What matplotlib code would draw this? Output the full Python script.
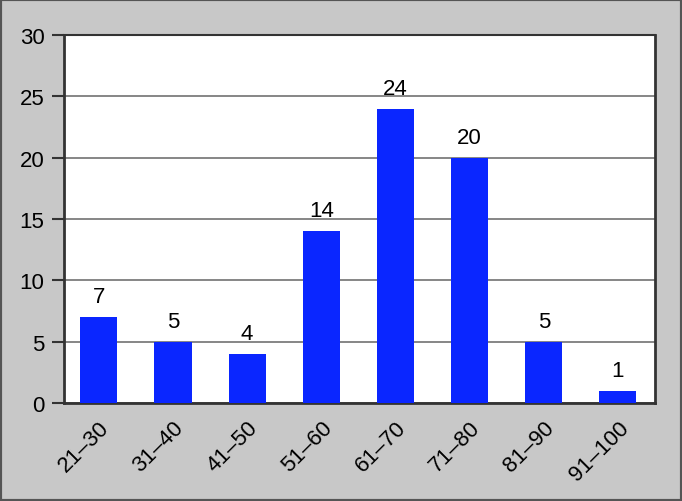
import matplotlib
matplotlib.use('Agg')
import matplotlib.pyplot as plt
from matplotlib.patches import Rectangle

plt.rcParams['font.family'] = ['Liberation Sans', 'DejaVu Sans']

categories = ['21–30', '31–40', '41–50', '51–60', '61–70', '71–80', '81–90', '91–100']
counts = [7, 5, 4, 14, 24, 20, 5, 1]
yticks = [0, 5, 10, 15, 20, 25, 30]

fig = plt.figure(figsize=(6.82, 5.02), dpi=100, facecolor='#c8c8c8')
fig.patches.append(Rectangle((0, 0), 1, 1, transform=fig.transFigure, fill=False,
                             edgecolor='#555555', linewidth=3))
ax = fig.add_axes([64 / 682, 1 - 404 / 502, 591 / 682, 368 / 502])
ax.set_facecolor('white')

x = range(len(categories))
ax.bar(x, counts, width=0.5, color='#0a26ff', zorder=3)
for i, v in zip(x, counts):
    ax.text(i, v + 0.8, str(v), ha='center', va='bottom', fontsize=16, zorder=4)

ax.set_xlim(-0.47, len(categories) - 0.5)
ax.set_ylim(0, 30)
ax.set_yticks(yticks)
ax.set_yticklabels([str(t) for t in yticks], fontsize=16)
ax.set_xticks(list(x))
ax.set_xticklabels(categories, fontsize=16, rotation=45, ha='right', rotation_mode='anchor')
ax.tick_params(axis='x', length=0, pad=10)
ax.tick_params(axis='y', length=9, width=1.5, color='#333333', pad=5)
ax.yaxis.grid(True, color='#666666', linewidth=1.1, zorder=0)
for s in ['left', 'bottom', 'right']:
    ax.spines[s].set_color('#333333')
    ax.spines[s].set_linewidth(2)
ax.spines['top'].set_color('#333333')
ax.spines['top'].set_linewidth(1.5)

fig.savefig('out.png', dpi=100, facecolor=fig.get_facecolor())
